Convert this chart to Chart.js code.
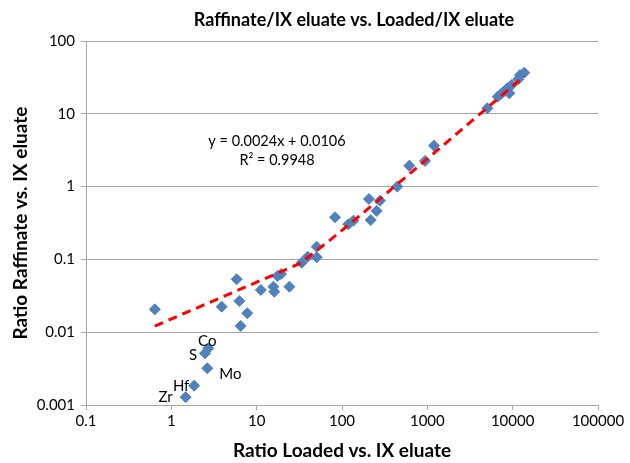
<!DOCTYPE html>
<html lang="en">
<head>
<meta charset="utf-8">
<title>Raffinate/IX eluate vs. Loaded/IX eluate</title>
<script src="https://cdn.jsdelivr.net/npm/chart.js@4.4.1/dist/chart.umd.min.js"></script>
<style>
    html, body { margin: 0; padding: 0; background: #fff; }
    #wrap { width: 630px; height: 463px; }
</style>
</head>
<body>
<div id="wrap"><canvas id="ratioChart" width="630" height="463"></canvas></div>
<script>
    // values
    const LOADED_RATIO = [
        0.64, 3.89, 5.83, 6.26, 7.76, 6.5, 11.2, 15.7, 16.1, 17.5, 19.3, 24.2,
        33.7, 39.6, 50.6, 50.6, 82.8, 118.6, 135.8, 207, 279, 255, 217,
        445, 615, 940, 1197, 5050, 6680, 7440, 8140, 9140, 8650, 9750,
        11640, 12190, 13680
    ];
    const RAFFINATE_RATIO = [
        0.0206, 0.0224, 0.0533, 0.0268, 0.0182, 0.0122, 0.038, 0.0422, 0.036, 0.0592, 0.063, 0.0422,
        0.09, 0.109, 0.107, 0.149, 0.379, 0.303, 0.34, 0.676, 0.64, 0.463, 0.347,
        1.0, 1.94, 2.25, 3.65, 11.9, 17.2, 19.1, 20.8, 19.1, 22.4, 24.9,
        29.8, 34.1, 36.7
    ];

    // labelled elements
    const ELEMENTS = ['Co', 'S', 'Mo', 'Hf', 'Zr'];
    const ELEMENT_LOADED = [2.71, 2.48, 2.64, 1.85, 1.47];
    const ELEMENT_RAFFINATE = [0.0060, 0.00513, 0.00319, 0.00184, 0.00128];

    // linear trendline shown on the chart
    const TREND_SLOPE = 0.0024;
    const TREND_INTERCEPT = 0.0106;
    const TREND_R2 = 0.9948;

    const X_TICKS = [0.1, 1, 10, 100, 1000, 10000, 100000];
    const Y_TICKS = [0.001, 0.01, 0.1, 1, 10, 100];

    const FONT = 'Lato, "Noto Sans", sans-serif';
    const GRID = '#a6a6a6';
    const MARKER = '#4f81bd';

    const points = LOADED_RATIO.map((x, i) => ({x: x, y: RAFFINATE_RATIO[i]}));
    ELEMENTS.forEach((el, i) => points.push({x: ELEMENT_LOADED[i], y: ELEMENT_RAFFINATE[i]}));

    // trendline sampled in even steps of x (like the spreadsheet does),
    // so the first segment runs straight on the log axes
    const allX = LOADED_RATIO.concat(ELEMENT_LOADED);
    const xMin = Math.min.apply(null, allX);
    const xMax = Math.max.apply(null, allX);
    const trend = [];
    const steps = 433;
    for (let i = 0; i <= steps; i++) {
        const x = xMin + (xMax - xMin) * i / steps;
        trend.push({x: x, y: TREND_SLOPE * x + TREND_INTERCEPT});
    }

    // element labels sit next to their points (pixel offsets)
    const LABEL_OFFSET = [[-1, -7], [-12, 2], [23, 6], [-13, 0], [-20, 0]];

    const textPlugin = {
        id: 'texts',
        afterDatasetsDraw(chart) {
            const ctx = chart.ctx;
            const xs = chart.scales.x, ys = chart.scales.y;
            ctx.save();
            ctx.fillStyle = '#000';
            ctx.textAlign = 'center';
            ctx.textBaseline = 'middle';

            ctx.font = 'bold 18px ' + FONT;
            ctx.fillText('Raffinate/IX eluate vs. Loaded/IX eluate', 354, 20);

            ctx.font = '14.5px ' + FONT;
            ctx.fillText('y = ' + TREND_SLOPE + 'x + ' + TREND_INTERCEPT, 277, 141);
            ctx.fillText('R\u00b2 = ' + TREND_R2, 277, 160);

            ctx.font = '15px ' + FONT;
            ELEMENTS.forEach((el, i) => {
                const px = xs.getPixelForValue(ELEMENT_LOADED[i]);
                const py = ys.getPixelForValue(ELEMENT_RAFFINATE[i]);
                ctx.fillText(el, px + LABEL_OFFSET[i][0], py + LABEL_OFFSET[i][1]);
            });
            ctx.restore();
        }
    };

    new Chart(document.getElementById('ratioChart'), {
        type: 'scatter',
        data: {
            datasets: [{
                label: 'Trendline',
                data: trend,
                showLine: true,
                borderColor: '#ff0000',
                borderWidth: 3,
                borderDash: [9, 6],
                pointRadius: 0,
                order: 0
            }, {
                label: 'Ratio',
                data: points,
                pointStyle: 'rectRot',
                pointRadius: 5.5,
                pointBackgroundColor: MARKER,
                pointBorderColor: MARKER,
                pointBorderWidth: 1,
                order: 1
            }]
        },
        options: {
            responsive: false,
            animation: false,
            layout: {padding: {top: 41, right: 32, left: 0, bottom: 0}},
            plugins: {
                legend: {display: false},
                tooltip: {enabled: false}
            },
            scales: {
                x: {
                    type: 'logarithmic',
                    min: 0.1,
                    max: 100000,
                    afterBuildTicks: s => { s.ticks = X_TICKS.map(v => ({value: v})); },
                    afterFit: s => { s.height = 58; },
                    ticks: {
                        color: '#000',
                        font: {family: FONT, size: 15},
                        padding: 2,
                        maxRotation: 0,
                        callback: v => String(v)
                    },
                    grid: {drawOnChartArea: false, color: GRID, tickLength: 5},
                    border: {color: GRID},
                    title: {
                        display: true,
                        text: 'Ratio Loaded vs. IX eluate',
                        color: '#000',
                        font: {family: FONT, size: 19, weight: 'bold'},
                        padding: {top: 4, bottom: 1}
                    }
                },
                y: {
                    type: 'logarithmic',
                    min: 0.001,
                    max: 100,
                    afterBuildTicks: s => { s.ticks = Y_TICKS.map(v => ({value: v})); },
                    afterFit: s => { s.width = 86; },
                    ticks: {
                        color: '#000',
                        font: {family: FONT, size: 15},
                        padding: 6,
                        callback: v => String(v)
                    },
                    grid: {color: GRID, tickLength: 5},
                    border: {color: GRID},
                    title: {
                        display: true,
                        text: 'Ratio Raffinate vs. IX eluate',
                        color: '#000',
                        font: {family: FONT, size: 19, weight: 'bold'},
                        padding: {top: 9, bottom: 4}
                    }
                }
            }
        },
        plugins: [textPlugin]
    });
</script>
</body>
</html>
